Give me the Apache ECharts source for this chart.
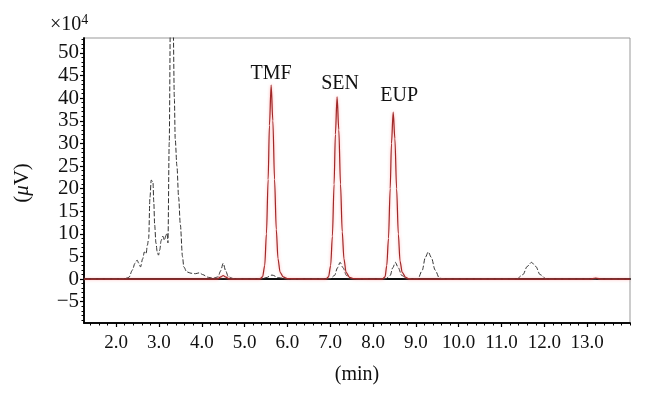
<!DOCTYPE html>
<html>
<head>
<meta charset="utf-8">
<script src="https://cdn.jsdelivr.net/npm/echarts@6/dist/echarts.min.js"></script>
<style>html,body{margin:0;padding:0;background:#fff}#c{width:645px;height:400px}</style>
</head>
<body>
<div id="c"></div>
<script>
// Sample trace (black, dashed) - time (min), signal (x10^4 uV)
const blackTime = [1.25,1.6,2.0,2.2,2.3,2.38,2.44,2.49,2.53,2.57,2.62,2.66,2.70,2.73,2.76,2.79,2.82,2.86,2.88,2.90,2.93,2.96,2.99,3.02,3.05,3.09,3.13,3.16,3.19,3.21,3.24,3.27,3.33,3.36,3.38,3.42,3.46,3.50,3.55,3.58,3.65,3.75,3.85,3.95,4.02,4.15,4.27,4.38,4.44,4.50,4.56,4.62,4.75,5.0,5.3,5.5,5.64,5.8,6.0,6.5,7.0,7.1,7.17,7.23,7.3,7.38,7.5,8.0,8.3,8.4,8.46,8.52,8.59,8.67,8.8,9.05,9.15,9.22,9.29,9.36,9.45,9.55,9.7,10.5,11.35,11.5,11.6,11.7,11.8,11.9,12.05,13.0,14.0];
const blackValue = [0,0,0,0.1,0.4,2.0,3.5,4.2,3.5,2.7,4.5,6.0,5.6,7.5,9,18,21.9,21.5,17,12,8,6.0,5.3,6.5,8.5,9.5,8.6,9.6,10.2,8,30,60,58,40,31,25,18,12,5,2.7,1.6,1.3,1.2,1.4,1.0,0.4,0.2,0.5,1.8,3.5,1.8,0.5,0.1,0,0.05,0.3,0.9,0.3,0.05,0,0.1,0.8,2.5,3.7,2.5,0.8,0.1,0,0.1,0.8,2.5,3.7,2.5,0.8,0.1,0.1,2,4.8,6.0,4.8,2,0.2,0,0,0,1.0,2.8,3.7,2.8,1.0,0,0,0];
// Standard trace (red)
const redTime = [1.25,2.0,3.0,4.0,4.35,4.45,4.5,4.55,4.65,5.0,5.35,5.42,5.47,5.51,5.55,5.58,5.62,5.66,5.70,5.74,5.78,5.83,5.9,6.0,6.5,6.90,6.96,7.01,7.05,7.09,7.12,7.16,7.20,7.24,7.28,7.32,7.37,7.45,7.55,8.0,8.22,8.28,8.32,8.36,8.40,8.43,8.47,8.51,8.55,8.59,8.63,8.68,8.76,8.85,10.0,12.0,13.05,13.2,13.35,14.0];
const redValue = [0,0,0,0,0,0.5,0.8,0.5,0,0,0,0.5,3,10,22,34,42.9,35,22,11,4.5,1.5,0.5,0.1,0,0,0.5,3,9.5,21,32,40.3,33,21,10.5,4.5,1.5,0.4,0.1,0,0,0.5,3,9,20,30,36.9,31,20,10,4,1.5,0.4,0,0,0,0,0.25,0,0];
const peakNames = ['TMF','SEN','EUP'];
const peakOffsets = [[0,-11],[3,-13],[6,-16]];
const xTickLabels = [2,3,4,5,6,7,8,9,10,11,12,13];
const yTickLabels = [-5,0,5,10,15,20,25,30,35,40,45,50];

const FONT = 'Liberation Serif';
const X_MIN = 1.25, X_MAX = 14.0, Y_MIN = -9.7, Y_MAX = 53.3;

const blackData = blackTime.map((t,i)=>[t, blackValue[i]]);
const redData = redTime.map((t,i)=>[t, redValue[i]]);

// find peaks in red trace
const peaks = [];
for (let i=1;i<redValue.length-1;i++){
  if (redValue[i]>10 && redValue[i]>=redValue[i-1] && redValue[i]>=redValue[i+1]) peaks.push(i);
}
const markData = peaks.map((idx,k)=>({
  name: peakNames[k], coord:[redTime[idx], redValue[idx]],
  label:{offset: peakOffsets[k]}
}));

const xMinor = []; for (let v=1.4; v<=14.0001; v+=0.2) xMinor.push(Math.round(v*10)/10);
const yMinor = []; for (let v=-9; v<=53; v+=1) yMinor.push(v);

const chart = echarts.init(document.getElementById('c'), null, {renderer:'canvas'});
chart.setOption({
  animation:false,
  backgroundColor:'#fff',
  grid:{left:84,right:15,top:38,bottom:77,show:true,borderColor:'#999',borderWidth:1,backgroundColor:'transparent'},
  xAxis:[
    {type:'value',min:X_MIN,max:X_MAX,
     axisLine:{show:true,onZero:false,lineStyle:{color:'#000',width:1.5}},
     axisTick:{show:true,length:4,customValues:xTickLabels,lineStyle:{color:'#000',width:1.2}},
     axisLabel:{customValues:xTickLabels,formatter:v=>v.toFixed(1),fontFamily:FONT,fontSize:19,color:'#111',margin:11},
     splitLine:{show:false},
     name:'(min)',nameLocation:'middle',nameGap:42,nameTextStyle:{fontFamily:FONT,fontSize:20,color:'#111'}},
    {type:'value',min:X_MIN,max:X_MAX,gridIndex:0,position:'bottom',
     axisLine:{show:true,onZero:false,lineStyle:{color:'#000',width:1.5}},
     axisTick:{show:true,length:2.5,customValues:xMinor,lineStyle:{color:'#000',width:1}},
     axisLabel:{show:true,customValues:xMinor,formatter:()=>''},splitLine:{show:false}},
    {type:'value',min:X_MIN,max:X_MAX,gridIndex:0,position:'top',
     axisLine:{show:true,lineStyle:{color:'#111',width:2}},
     axisTick:{show:false},axisLabel:{show:false},splitLine:{show:false}}
  ],
  yAxis:[
    {type:'value',min:Y_MIN,max:Y_MAX,
     axisLine:{show:true,onZero:false,lineStyle:{color:'#000',width:1.5}},
     axisTick:{show:true,length:4,customValues:yTickLabels,lineStyle:{color:'#000',width:1.2}},
     axisLabel:{customValues:yTickLabels,formatter:v=>v<0?'\u2212'+(-v):String(v),fontFamily:FONT,fontSize:21,color:'#111',margin:5},
     splitLine:{show:false}},
    {type:'value',min:Y_MIN,max:Y_MAX,gridIndex:0,position:'left',
     axisLine:{show:true,onZero:false,lineStyle:{color:'#000',width:1.5}},
     axisTick:{show:true,length:2.5,customValues:yMinor,lineStyle:{color:'#000',width:1}},
     axisLabel:{show:true,customValues:yMinor,formatter:()=>''},splitLine:{show:false}}
  ],
  series:[
    {type:'line',xAxisIndex:0,yAxisIndex:0,data:blackData,showSymbol:false,symbol:'none',
     smooth:0.3,smoothMonotone:'x',
     lineStyle:{color:'#333',width:1,type:[5,2]},z:2},
    {type:'line',xAxisIndex:0,yAxisIndex:0,data:redData,showSymbol:false,symbol:'none',
     smooth:0.3,smoothMonotone:'x',
     lineStyle:{color:'#a02828',width:1.2,shadowColor:'rgba(255,140,140,0.8)',shadowBlur:3},z:3,
     markPoint:{symbol:'circle',symbolSize:0,
       label:{show:true,position:'inside',formatter:'{b}',fontFamily:FONT,fontSize:20,color:'#111'},
       data:markData}}
  ],
  graphic:[
    {type:'text',left:50,top:13,style:{
      text:'{a|\u00d710}{s|4}',
      rich:{a:{fontFamily:FONT,fontSize:20,fill:'#111',verticalAlign:'bottom'},s:{fontFamily:FONT,fontSize:14,fill:'#111',verticalAlign:'top',padding:[0,0,8,0]}}
    }},
    {type:'text',x:22,y:183,rotation:Math.PI/2,style:{
      text:'{a|(}{m|\u03bc}{a|V)}',align:'center',verticalAlign:'middle',
      rich:{a:{fontFamily:FONT,fontSize:21,fill:'#111'},m:{fontFamily:FONT,fontSize:21,fontStyle:'italic',fill:'#111'}}
    }}
  ]
});
</script>
</body>
</html>
